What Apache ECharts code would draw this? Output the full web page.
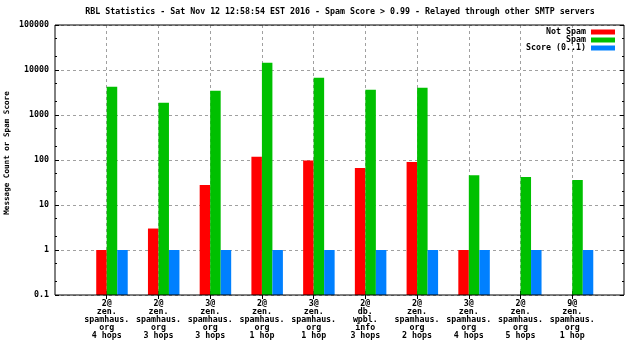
<!DOCTYPE html>
<html><head><meta charset="utf-8">
<script src="https://cdn.jsdelivr.net/npm/echarts@6/dist/echarts.min.js"></script>
<style>html,body{margin:0;padding:0;background:#fff}#c{width:640px;height:360px}</style>
</head><body><div id="c"></div>
<script>
const titleText = 'RBL Statistics - Sat Nov 12 12:58:54 EST 2016 - Spam Score > 0.99 - Relayed through other SMTP servers';
const yAxisName = 'Message Count or Spam Score';
const categories = [
  '2@\nzen.\nspamhaus.\norg\n4 hops',
  '2@\nzen.\nspamhaus.\norg\n3 hops',
  '3@\nzen.\nspamhaus.\norg\n3 hops',
  '2@\nzen.\nspamhaus.\norg\n1 hop',
  '3@\nzen.\nspamhaus.\norg\n1 hop',
  '2@\ndb.\nwpbl.\ninfo\n3 hops',
  '2@\nzen.\nspamhaus.\norg\n2 hops',
  '3@\nzen.\nspamhaus.\norg\n4 hops',
  '2@\nzen.\nspamhaus.\norg\n5 hops',
  '9@\nzen.\nspamhaus.\norg\n1 hop'
];
const notSpam = [1, 3, 28, 118, 97, 66, 90, 1, null, null];
const spam = [4260, 1880, 3470, 14500, 6750, 3620, 4050, 46, 42, 36];
const score = [1, 1, 1, 1, 1, 1, 1, 1, 1, 1];
const seriesNames = ['Not Spam', 'Spam', 'Score (0..1)'];
const yMin = 0.1, yMax = 100000;
const majorTicks = [0.1, 1, 10, 100, 1000, 10000, 100000];
const minorTicks = [0.2, 0.5, 2, 5, 20, 50, 200, 500, 2000, 5000, 20000, 50000];

const FONT = 'DejaVu Sans Mono';
const FS = 8.3;
const FW = 'bold';
// Log scale drawn on a linear axis: position = log10(v) - log10(yMin), so bars grow from yMin
const L0 = Math.log10(yMin);
const toPos = v => (v == null || v <= 0) ? null : Math.log10(v) - L0;
const fromPos = p => Math.pow(10, p + L0);
// pad categories with empty slots at both ends (gnuplot x range 0..11)
const axisCats = [''].concat(categories, ['']);
const pad = arr => [null].concat(arr.map(toPos), [null]);
const inner = (i) => i > 0 && i < axisCats.length - 1;

const chart = echarts.init(document.getElementById('c'), null, {renderer: 'canvas'});
const yBase = {type: 'value', min: toPos(yMin), max: toPos(yMax), interval: 1, gridIndex: 0};
const gridDash = {show: true, lineStyle: {color: '#a0a0a0', type: [3, 3], width: 1}};
const fmt = p => {
  const v = fromPos(p);
  return v >= 1 ? String(Math.round(v)) : String(Math.round(v * 10) / 10);
};
const txt = {fontFamily: FONT, fontSize: FS, fontWeight: FW, color: '#000'};
chart.setOption({
  animation: false,
  backgroundColor: '#fff',
  textStyle: txt,
  title: {
    text: titleText, left: 340, textAlign: 'center', top: 8, padding: 0,
    textStyle: txt
  },
  legend: {
    data: seriesNames, orient: 'vertical', align: 'right', padding: 0,
    right: 25, top: 28, itemWidth: 24, itemHeight: 5, itemGap: 0,
    icon: 'rect',
    textStyle: Object.assign({lineHeight: 7.5, padding: [0, 0, 0, 0]}, txt),
    itemStyle: {borderWidth: 0}
  },
  grid: {
    show: true, z: 3, left: 55, right: 16, top: 25, bottom: 65,
    containLabel: false, outerBoundsMode: 'none',
    borderColor: '#000', borderWidth: 1, backgroundColor: 'transparent'
  },
  xAxis: [{
    type: 'category', data: axisCats, boundaryGap: false, position: 'bottom',
    axisLine: {show: false},
    axisTick: {show: true, inside: true, length: 4, lineStyle: {color: '#000'}, interval: inner},
    axisLabel: Object.assign({lineHeight: 8, margin: 5, interval: 0}, txt),
    splitLine: Object.assign({interval: inner}, gridDash)
  }, {
    type: 'category', data: axisCats, boundaryGap: false, position: 'top',
    axisLine: {show: false},
    axisTick: {show: true, inside: true, length: 4, lineStyle: {color: '#000'}, interval: inner},
    axisLabel: {show: false}, splitLine: {show: false}
  }],
  yAxis: [
    Object.assign({}, yBase, {
      position: 'left',
      name: yAxisName, nameLocation: 'middle', nameRotate: 90, nameGap: 44,
      nameMoveOverlap: false,
      nameTextStyle: Object.assign({}, txt, {fontSize: 7.6, padding: [0, 0, 0, 14]}),
      axisLine: {show: false},
      axisTick: {show: true, inside: true, length: 4, lineStyle: {color: '#000'}},
      axisLabel: Object.assign({margin: 6, formatter: fmt}, txt),
      splitLine: gridDash
    }),
    Object.assign({}, yBase, {
      position: 'left', axisLine: {show: false}, axisLabel: {show: false}, splitLine: {show: false},
      axisTick: {show: true, inside: true, length: 2, lineStyle: {color: '#000'}, customValues: minorTicks.map(toPos)}
    }),
    Object.assign({}, yBase, {
      position: 'right', axisLine: {show: false}, axisLabel: {show: false}, splitLine: {show: false},
      axisTick: {show: true, inside: true, length: 4, lineStyle: {color: '#000'}, customValues: majorTicks.map(toPos)}
    }),
    Object.assign({}, yBase, {
      position: 'right', axisLine: {show: false}, axisLabel: {show: false}, splitLine: {show: false},
      axisTick: {show: true, inside: true, length: 2, lineStyle: {color: '#000'}, customValues: minorTicks.map(toPos)}
    })
  ],
  series: [
    {name: '_offset', type: 'bar', data: pad(score.map(() => null)), barWidth: 10.5, barGap: '0%', silent: true},
    {name: seriesNames[0], type: 'bar', data: pad(notSpam), barWidth: 10.5, barGap: '0%', itemStyle: {color: '#ff0000'}},
    {name: seriesNames[1], type: 'bar', data: pad(spam), barWidth: 10.5, barGap: '0%', itemStyle: {color: '#00c000'}},
    {name: seriesNames[2], type: 'bar', data: pad(score), barWidth: 10.5, barGap: '0%', itemStyle: {color: '#0080ff'}}
  ]
});
</script></body></html>
